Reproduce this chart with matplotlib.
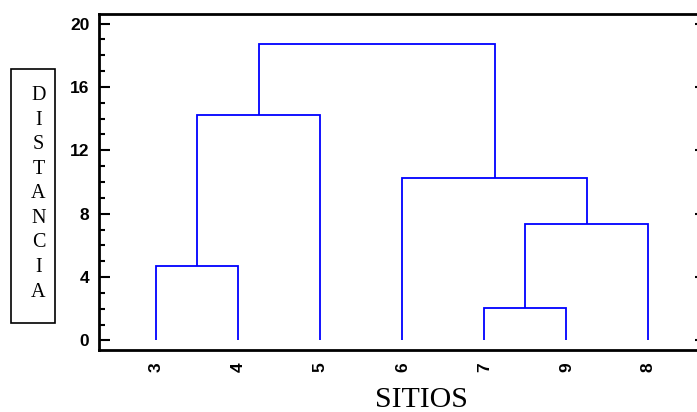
import matplotlib
matplotlib.use("Agg")
import matplotlib.pyplot as plt
from matplotlib.patches import Rectangle
from matplotlib.ticker import MultipleLocator

# Data
leaf_labels = ['3', '4', '5', '6', '7', '9', '8']
# merges: (cluster a, cluster b, height); clusters 0..6 are leaves in display order,
# new clusters numbered 7, 8, ... in order of creation
merge_a = [4, 0, 7, 3, 8, 11]
merge_b = [5, 1, 6, 9, 2, 10]
merge_h = [2.04, 4.71, 7.35, 10.23, 14.2, 18.7]
y_ticks = [0, 4, 8, 12, 16, 20]

W, H = 697, 412
fig = plt.figure(figsize=(W / 100, H / 100), dpi=100)
ax = fig.add_axes([99 / W, (H - 350) / H, (705.8 - 99) / W, (350 - 14) / H])

xpos = {i: i + 1 for i in range(len(leaf_labels))}
ypos = {i: 0.0 for i in range(len(leaf_labels))}
color = (0, 0, 1)
lw = 1.3
for k, (a, b, h) in enumerate(zip(merge_a, merge_b, merge_h)):
    xa, xb = xpos[a], xpos[b]
    ax.plot([xa, xa, xb, xb], [ypos[a], h, h, ypos[b]], color=color, lw=lw,
            solid_joinstyle='miter', solid_capstyle='butt')
    nid = len(leaf_labels) + k
    xpos[nid] = (xa + xb) / 2
    ypos[nid] = h

ax.set_xlim(0.3, 7.7)
ax.set_ylim(-0.6, 20.6)
ax.set_xticks(range(1, len(leaf_labels) + 1))
ax.set_xticklabels(leaf_labels, rotation=90, fontsize=12.5, fontweight='bold',
                   family='Liberation Sans')
ax.tick_params(axis='x', length=0, pad=9)
ax.set_yticks(y_ticks)
ax.set_yticklabels([str(v) for v in y_ticks], fontsize=12.5, fontweight='bold',
                   family='Liberation Sans')
ax.yaxis.set_minor_locator(MultipleLocator(1))
ax.tick_params(axis='y', which='major', direction='in', length=8, width=1.5,
               pad=7, left=True, right=True)
ax.tick_params(axis='y', which='minor', direction='in', length=4.5, width=1.5,
               left=True, right=True)
for s in ax.spines.values():
    s.set_linewidth(2.0)

# boxed vertical y label
fig.patches.append(Rectangle((11 / W, (H - 323) / H), 44 / W, 254 / H,
                             transform=fig.transFigure, fill=False,
                             edgecolor='black', linewidth=1.2))
ylabel = "DISTANCIA"
for i, ch in enumerate(ylabel):
    yc = 93.5 + i * 24.56
    fig.text(38.5 / W, (H - yc - 6.6) / H, ch, ha='center', va='baseline',
             fontsize=14.5, family='Liberation Serif')

fig.text(421.5 / W, 5 / H, "SITIOS", ha='center', va='baseline',
         fontsize=21.5, family='Liberation Serif')

fig.savefig("out.png", dpi=100)
